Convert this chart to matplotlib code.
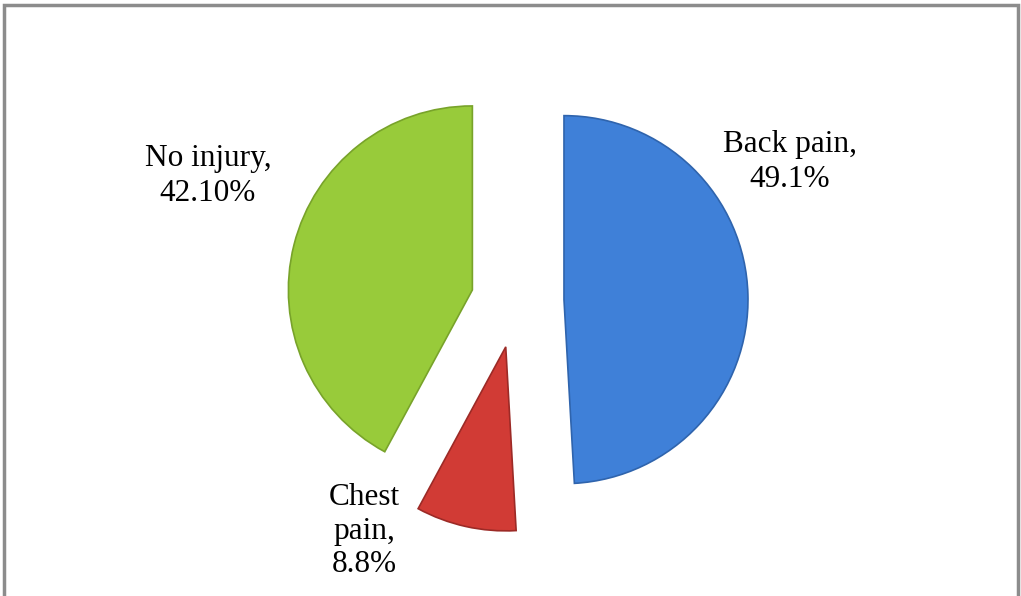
import matplotlib.pyplot as plt
import matplotlib.patches as patches

# data
categories = ['Back pain', 'Chest pain', 'No injury']
shares = [49.1, 8.8, 42.1]
share_text = ['49.1%', '8.8%', '42.10%']
colors = ['#3f80d8', '#d13b35', '#98cb3a']
edges = ['#2f64ad', '#9c2a26', '#78a32a']

fig = plt.figure(figsize=(10.21, 5.96), dpi=100)
ax = fig.add_axes([0, 0, 1, 1])

# pie drawn in pixel space; explode is in data units here
wedges, _ = ax.pie(shares, colors=colors, startangle=90, counterclock=False,
                   explode=[48, 47, 45], center=(516, 295), radius=184,
                   frame=True,
                   wedgeprops=dict(linewidth=1.2))
for w, ec in zip(wedges, edges):
    w.set_edgecolor(ec)
ax.set_xlim(0, 1021)
ax.set_ylim(0, 596)
ax.set_aspect('equal')
ax.axis('off')

serif = ['Liberation Serif', 'DejaVu Serif']
ax.text(790, 434, categories[0] + ',\n' + share_text[0], ha='center', va='center',
        fontsize=22.5, family=serif, linespacing=1.25)
ax.text(364, 65, 'Chest\npain,\n' + share_text[1], ha='center', va='center',
        fontsize=22.5, family=serif, linespacing=1.2)
ax.text(208, 420, categories[2] + ',\n' + share_text[2], ha='center', va='center',
        fontsize=22.5, family=serif, linespacing=1.25)

# grey frame of the chart area (cut at right/bottom)
fig.patches.append(patches.Rectangle((4 / 1021, -0.05), 1014 / 1021, 1.05 - 5 / 596,
                                     transform=fig.transFigure, fill=False,
                                     edgecolor='#8c8c8c', linewidth=2.5))

fig.savefig('out.png', dpi=100)
